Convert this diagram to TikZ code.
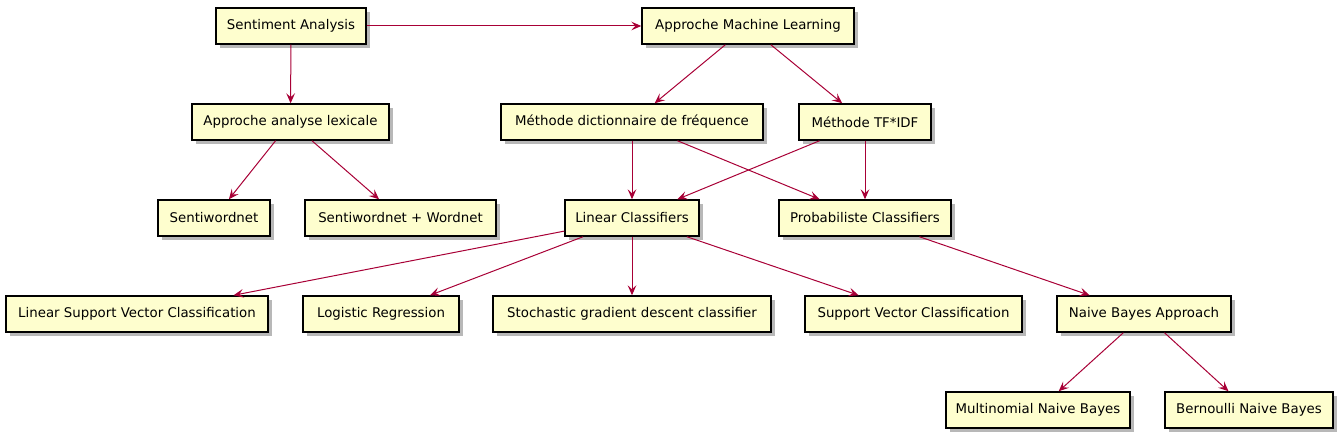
\documentclass[tikz,border=0pt]{standalone}
\usepackage{fontspec}
\setmainfont{DejaVu Sans}
\usetikzlibrary{arrows.meta,shadows}
\definecolor{boxfill}{HTML}{FEFECE}
\definecolor{linkred}{HTML}{A80036}

\begin{document}
\begin{tikzpicture}[x=0.75pt,y=0.75pt,yscale=-1,xscale=1,
    box/.style={draw=black, fill=boxfill, line width=1.1pt, minimum width=#1*0.75pt,
        minimum height=27pt, inner sep=0pt, font=\fontsize{10pt}{12pt}\selectfont,
        drop shadow={shadow xshift=3pt, shadow yshift=-3pt, fill=black, opacity=0.28}},
    link/.style={draw=linkred, line width=0.75pt,
        -{Stealth[length=7.5pt, width=6.5pt, inset=3pt]}}]
\useasboundingbox (0,0) rectangle (1342,438);

% top row
\node[box=150] (sa) at (291,26) {Sentiment Analysis};
\node[box=212] (ml) at (748,26) {Approche Machine Learning};

% second row
\node[box=197] (lex) at (290.5,122) {Approche analyse lexicale};
\node[box=262] (dict) at (632,122) {Méthode dictionnaire de fréquence};
\node[box=132] (tfidf) at (865,122) {Méthode TF*IDF};

% third row
\node[box=112] (swn) at (214,218) {Sentiwordnet};
\node[box=191] (swnw) at (400.5,218) {Sentiwordnet + Wordnet};
\node[box=134] (lin) at (632,218) {Linear Classifiers};
\node[box=172] (prob) at (865,218) {Probabiliste Classifiers};

% fourth row
\node[box=262] (lsvc) at (137,314) {Linear Support Vector Classification};
\node[box=156] (logreg) at (381,314) {Logistic Regression};
\node[box=278] (sgd) at (632,314) {Stochastic gradient descent classifier};
\node[box=217] (svc) at (913.5,314) {Support Vector Classification};
\node[box=174] (nb) at (1144,314) {Naive Bayes Approach};

% bottom row
\node[box=184] (mnb) at (1038,410) {Multinomial Naive Bayes};
\node[box=168] (bnb) at (1249,410) {Bernoulli Naive Bayes};

% links
\draw[link] (sa) -- (ml);
\draw[link] (sa) -- (lex);
\draw[link] (lex) -- (swn);
\draw[link] (lex) -- (swnw);
\draw[link] (ml) -- (dict);
\draw[link] (ml) -- (tfidf);
\draw[link] (dict) -- (lin);
\draw[link] (dict) -- (prob);
\draw[link] (tfidf) -- (lin);
\draw[link] (tfidf) -- (prob);
\draw[link] (lin) -- (lsvc);
\draw[link] (lin) -- (logreg);
\draw[link] (lin) -- (sgd);
\draw[link] (lin) -- (svc);
\draw[link] (prob) -- (nb);
\draw[link] (nb) -- (mnb);
\draw[link] (nb) -- (bnb);

\end{tikzpicture}
\end{document}
